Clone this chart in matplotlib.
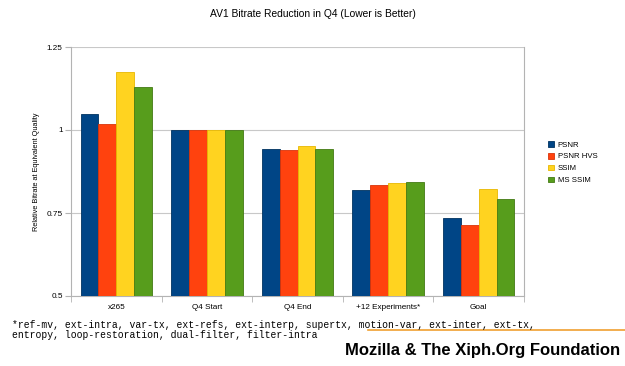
import numpy as np
import matplotlib.pyplot as plt

categories = ['x265', 'Q4 Start', 'Q4 End', '+12 Experiments*', 'Goal']
series = ['PSNR', 'PSNR HVS', 'SSIM', 'MS SSIM']
psnr = [1.048, 1.0, 0.943, 0.819, 0.735]
psnr_hvs = [1.019, 1.0, 0.939, 0.833, 0.713]
ssim = [1.175, 1.0, 0.952, 0.839, 0.822]
ms_ssim = [1.130, 1.0, 0.943, 0.844, 0.791]
colors = ['#004586', '#ff420e', '#ffd320', '#579d1c']
edges = ['#00325f', '#d8340a', '#e8b800', '#437a14']

plt.rcParams['font.family'] = ['Liberation Sans', 'DejaVu Sans']

fig = plt.figure(figsize=(6.25, 3.66), dpi=100)
ax = fig.add_axes([71 / 625, 1 - 296 / 366, 453 / 625, 249 / 366])

x = np.arange(len(categories))
w = 0.197
for i, (vals, c, e, name) in enumerate(zip([psnr, psnr_hvs, ssim, ms_ssim], colors, edges, series)):
    ax.bar(x + (i - 1.5) * w, np.array(vals) - 0.5, w, bottom=0.5, color=c,
           edgecolor=e, linewidth=0.6, label=name, zorder=3)

ax.set_xlim(-0.5, len(categories) - 0.5)
ax.set_ylim(0.5, 1.25)
ax.set_yticks([0.5, 0.75, 1.0, 1.25])
ax.set_yticklabels(['0.5', '0.75', '1', '1.25'])
ax.set_xticks(x)
ax.set_xticklabels(categories)
ax.set_xticks(np.arange(-0.5, len(categories)), minor=True)
ax.tick_params(axis='x', which='major', length=0, labelsize=5.9, pad=6)
ax.tick_params(axis='x', which='minor', length=4, color='#b3b3b3')
ax.tick_params(axis='y', length=4, color='#b3b3b3', labelsize=5.9, pad=2)
ax.yaxis.grid(True, color='#c8c8c8', linewidth=0.8, zorder=0)
for s in ax.spines.values():
    s.set_color('#b3b3b3')
ax.spines['top'].set_visible(False)
ax.set_ylabel('Relative Bitrate at Equivalent Quality', fontsize=5.3, labelpad=5)

fig.text(0.5, 1 - 14 / 366, 'AV1 Bitrate Reduction in Q4 (Lower is Better)',
         ha='center', va='center', fontsize=7.4)

ax.legend(loc='upper left', bbox_to_anchor=(541 / 625, 1 - 134 / 366),
          bbox_transform=fig.transFigure, frameon=False, fontsize=5.6,
          handlelength=0.75, handleheight=0.75, handletextpad=0.5, labelspacing=0.55)

fig.text(12 / 625, 1 - 325 / 366,
         '*ref-mv, ext-intra, var-tx, ext-refs, ext-interp, supertx, motion-var, ext-inter, ext-tx,',
         family='Liberation Mono', fontsize=7.0, va='center')
fig.text(12 / 625, 1 - 335 / 366,
         'entropy, loop-restoration, dual-filter, filter-intra',
         family='Liberation Mono', fontsize=7.0, va='center')
fig.add_artist(plt.Line2D([368 / 625, 1.0], [1 - 330 / 366] * 2, color='#f0a030', linewidth=1.2))
fig.text(620 / 625, 1 - 351 / 366, 'Mozilla & The Xiph.Org Foundation',
         ha='right', va='center', fontsize=12, fontweight='bold')

fig.savefig('out.png', dpi=100)
